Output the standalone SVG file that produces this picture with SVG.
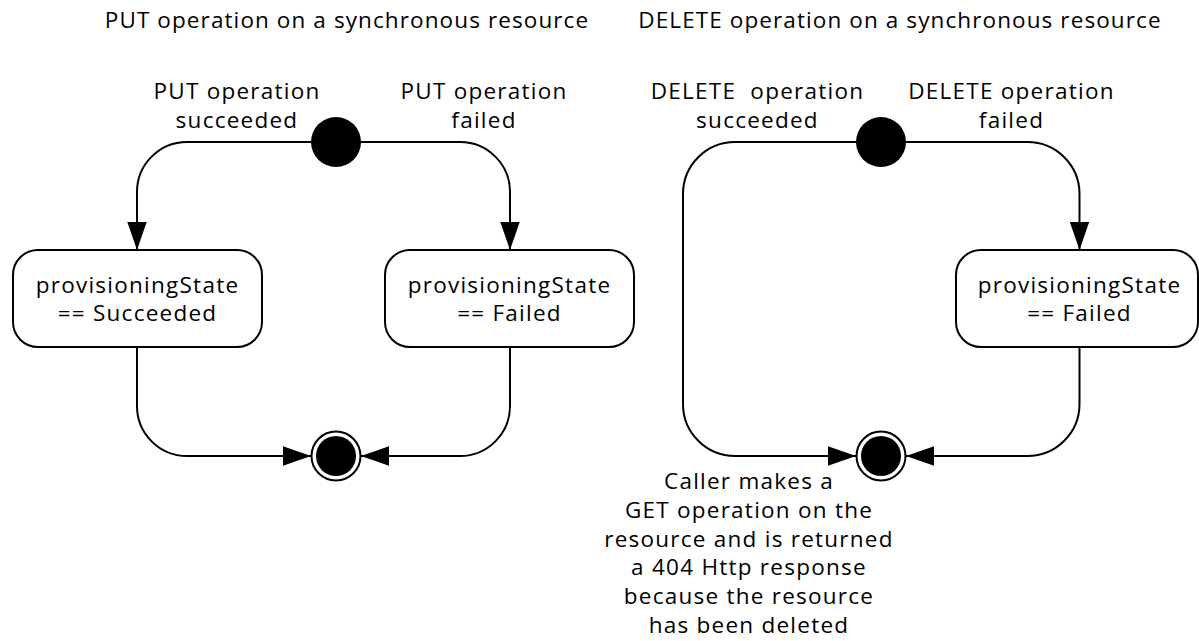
<svg xmlns="http://www.w3.org/2000/svg" width="1199" height="641" viewBox="0 0 1199 641">
<defs>
<style>
text{font-family:"Open Sans","Noto Sans","DejaVu Sans",sans-serif;font-size:22.5px;fill:#000;text-anchor:middle;letter-spacing:1.25px}
.title{letter-spacing:1.1px}
.box{fill:#fff;stroke:#000;stroke-width:2}
.conn{fill:none;stroke:#000;stroke-width:2}
.start{fill:#000}
.endo{fill:#fff;stroke:#000;stroke-width:2}
.endi{fill:#000}
</style>
<marker id="arr" markerUnits="userSpaceOnUse" markerWidth="28" markerHeight="20" viewBox="0 0 26 18" refX="26" refY="9" orient="auto">
<path d="M0,0 L26,9 L0,18 Z" fill="#000"/>
</marker>
</defs>
<rect width="1199" height="641" fill="#fff"/>
<text class="title" x="347" y="28">PUT operation on a synchronous resource</text>
<text class="title" x="900" y="28">DELETE operation on a synchronous resource</text>

<g id="connectors">
<path class="conn" d="M311,142 H187 A50,50 0 0 0 137,192 V250" marker-end="url(#arr)"/>
<path class="conn" d="M361,142 H460 A50,50 0 0 1 510,192 V250" marker-end="url(#arr)"/>
<path class="conn" d="M137,347 V406 A50,50 0 0 0 187,456 H311" marker-end="url(#arr)"/>
<path class="conn" d="M510,347 V406 A50,50 0 0 1 460,456 H361" marker-end="url(#arr)"/>
<path class="conn" d="M856,142 H735 A52,52 0 0 0 683,194 V404 A52,52 0 0 0 735,456 H856" marker-end="url(#arr)"/>
<path class="conn" d="M906,142 H1027.5 A52,52 0 0 1 1079.5,194 V250" marker-end="url(#arr)"/>
<path class="conn" d="M1079.5,347 V404 A52,52 0 0 1 1027.5,456 H906" marker-end="url(#arr)"/>
<text x="237" y="99">PUT operation</text>
<text x="237" y="128">succeeded</text>
<text x="484" y="99">PUT operation</text>
<text x="484" y="128">failed</text>
<text x="757.5" y="99" xml:space="preserve">DELETE  operation</text>
<text x="757.5" y="128">succeeded</text>
<text x="1011.5" y="99">DELETE operation</text>
<text x="1011.5" y="128">failed</text>
</g>

<g id="put-start"><circle class="start" cx="336" cy="142" r="25"/></g>
<g id="put-succeeded">
<rect class="box" x="13" y="250" width="249" height="97" rx="25"/>
<text x="137.5" y="293">provisioningState</text>
<text x="137.5" y="321">== Succeeded</text>
</g>
<g id="put-failed">
<rect class="box" x="385" y="250" width="249" height="97" rx="25"/>
<text x="509.5" y="293">provisioningState</text>
<text x="509.5" y="321">== Failed</text>
</g>
<g id="put-end"><circle class="endo" cx="336" cy="456" r="24.5"/><circle class="endi" cx="336" cy="456" r="20"/></g>

<g id="delete-start"><circle class="start" cx="881" cy="142" r="25"/></g>
<g id="delete-failed">
<rect class="box" x="956" y="250" width="242" height="97" rx="25"/>
<text x="1079.5" y="293">provisioningState</text>
<text x="1079.5" y="321">== Failed</text>
</g>
<g id="delete-end"><circle class="endo" cx="881" cy="456" r="24.5"/><circle class="endi" cx="881" cy="456" r="20"/></g>
<g id="delete-note">
<text x="749" y="489">Caller makes a</text>
<text x="749" y="518">GET operation on the</text>
<text x="749" y="547">resource and is returned</text>
<text x="749" y="575">a 404 Http response</text>
<text x="749" y="604">because the resource</text>
<text x="749" y="633">has been deleted</text>
</g>
</svg>
